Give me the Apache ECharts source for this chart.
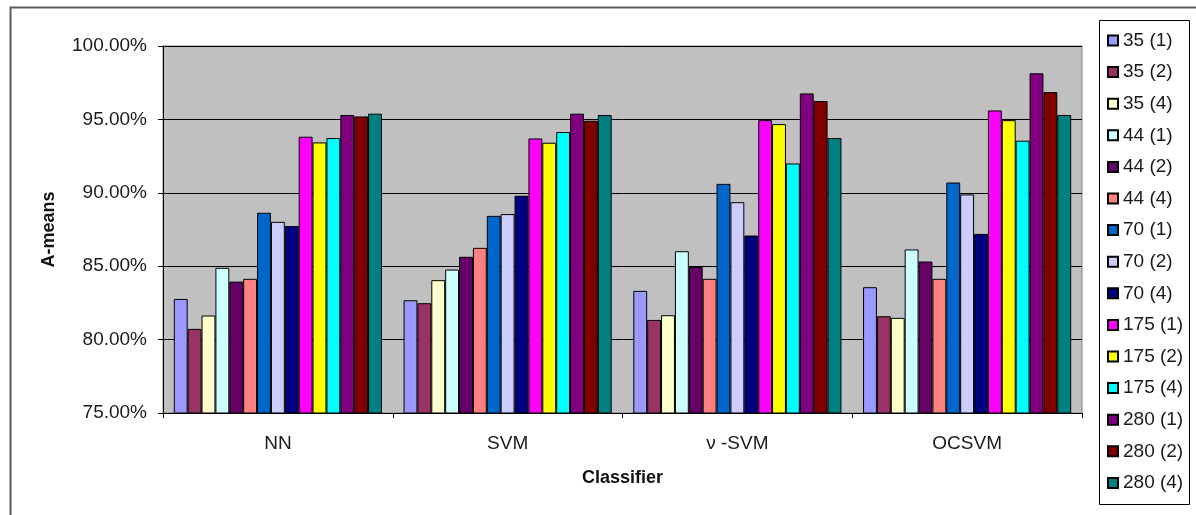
<!DOCTYPE html>
<html>
<head>
<meta charset="utf-8">
<script src="https://cdn.jsdelivr.net/npm/echarts@6/dist/echarts.min.js"></script>
<style>
html,body{margin:0;padding:0;background:#fff;}
#chart{width:1196px;height:515px;}
</style>
</head>
<body>
<div id="chart"></div>
<script>
const categories = ['NN', 'SVM', 'ν -SVM', 'OCSVM'];
const seriesNames = ['35 (1)', '35 (2)', '35 (4)', '44 (1)', '44 (2)', '44 (4)', '70 (1)', '70 (2)', '70 (4)', '175 (1)', '175 (2)', '175 (4)', '280 (1)', '280 (2)', '280 (4)'];
const seriesColors = ['#9999FF', '#993366', '#FFFFCC', '#CCFFFF', '#660066', '#FF8080', '#0066CC', '#CCCCFF', '#000080', '#FF00FF', '#FFFF00', '#00FFFF', '#800080', '#800000', '#008080'];
// values per series, in order NN, SVM, v-SVM, OCSVM (percent)
const s35_1 = [82.77, 82.68, 83.32, 83.57];
const s35_2 = [80.73, 82.48, 81.34, 81.59];
const s35_4 = [81.64, 84.05, 81.66, 81.48];
const s44_1 = [84.89, 84.77, 86.02, 86.14];
const s44_2 = [83.95, 85.64, 84.95, 85.32];
const s44_4 = [84.14, 86.25, 84.14, 84.14];
const s70_1 = [88.64, 88.43, 90.61, 90.70];
const s70_2 = [88.02, 88.55, 89.36, 89.89];
const s70_4 = [87.73, 89.80, 87.09, 87.20];
const s175_1 = [93.82, 93.70, 94.95, 95.61];
const s175_2 = [93.43, 93.41, 94.68, 94.95];
const s175_4 = [93.73, 94.14, 92.00, 93.55];
const s280_1 = [95.30, 95.39, 96.77, 98.14];
const s280_2 = [95.20, 94.91, 96.25, 96.86];
const s280_4 = [95.39, 95.30, 93.73, 95.30];
const seriesValues = [s35_1, s35_2, s35_4, s44_1, s44_2, s44_4, s70_1, s70_2, s70_4, s175_1, s175_2, s175_4, s280_1, s280_2, s280_4];
const yTicks = {min: 75, max: 100, interval: 5};

const FONT = '"Liberation Sans", Arial, sans-serif';
const chart = echarts.init(document.getElementById('chart'), null, {renderer: 'canvas'});

const series = seriesNames.map((name, i) => ({
  name: name,
  type: 'bar',
  data: seriesValues[i],
  barGap: '0%',
  barCategoryGap: '9.4%',
  itemStyle: {color: seriesColors[i], borderColor: '#000', borderWidth: 1},
  emphasis: {disabled: true},
  animation: false
}));

chart.setOption({
  animation: false,
  backgroundColor: '#fff',
  graphic: [
    {type: 'rect', left: 8, top: 5, shape: {x: 0, y: 0, width: 1200, height: 520}, style: {fill: 'none', stroke: '#5a5a5a', lineWidth: 2}, z: -10, silent: true},
    {type: 'rect', shape: {x: 1099.5, y: 20.5, width: 90, height: 484}, style: {fill: '#fff', stroke: '#000', lineWidth: 1}, z: -5, silent: true}
  ],
  grid: {
    left: 163, right: 114, top: 46, bottom: 102,
    show: true, backgroundColor: '#C0C0C0', borderColor: '#808080', borderWidth: 1
  },
  legend: {
    orient: 'vertical',
    left: 1107, top: 31,
    itemWidth: 10, itemHeight: 10,
    itemGap: 12.6,
    padding: 0,
    icon: 'rect',
    textStyle: {fontFamily: FONT, fontSize: 19, color: '#1a1a1a', lineHeight: 19, padding: [0, 0, 0, 0]},
    data: seriesNames
  },
  xAxis: {
    type: 'category',
    data: categories,
    name: 'Classifier',
    nameLocation: 'middle',
    nameGap: 56,
    nameTextStyle: {fontFamily: FONT, fontSize: 18, fontWeight: 'bold', color: '#111'},
    axisLine: {lineStyle: {color: '#000', width: 1}},
    axisTick: {show: true, length: 5, lineStyle: {color: '#000'}},
    axisLabel: {fontFamily: FONT, fontSize: 19, color: '#1a1a1a', margin: 21}
  },
  yAxis: {
    type: 'value',
    min: yTicks.min, max: yTicks.max, interval: yTicks.interval,
    name: 'A-means',
    nameLocation: 'middle',
    nameGap: 105,
    nameRotate: 90,
    nameTextStyle: {fontFamily: FONT, fontSize: 18, fontWeight: 'bold', color: '#111'},
    axisLine: {show: true, lineStyle: {color: '#000', width: 1}},
    axisTick: {show: true, length: 5, lineStyle: {color: '#000'}},
    splitLine: {show: true, lineStyle: {color: '#000', width: 1}},
    axisLabel: {fontFamily: FONT, fontSize: 19, color: '#1a1a1a', margin: 16, formatter: v => v.toFixed(2) + '%'}
  },
  series: series
});
</script>
</body>
</html>
